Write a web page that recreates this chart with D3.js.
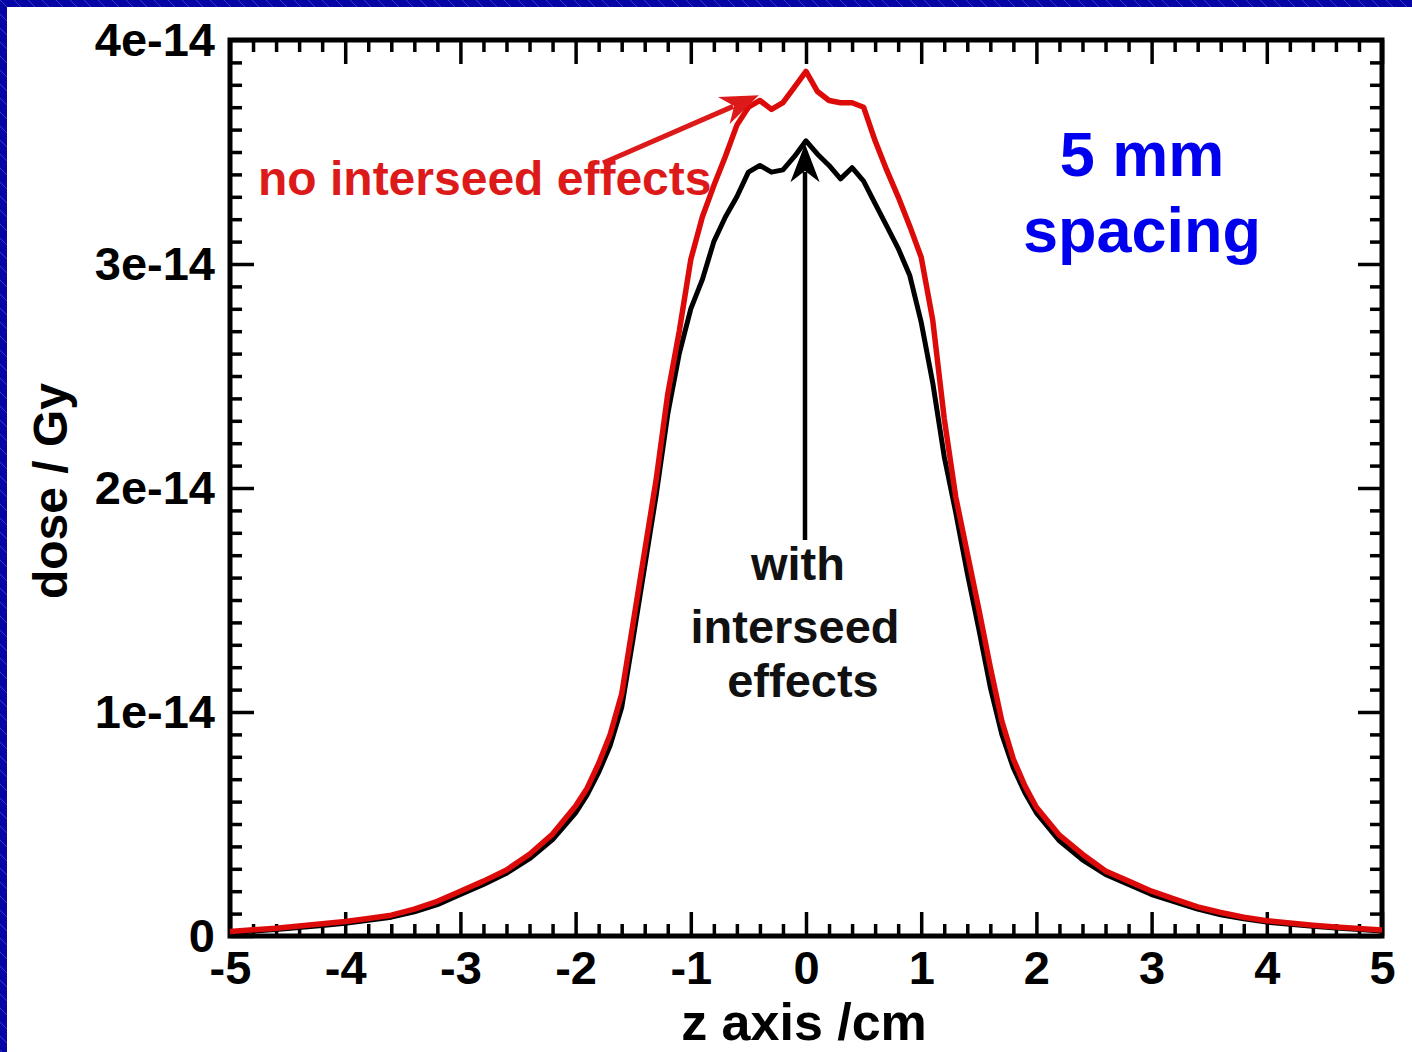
<!DOCTYPE html>
<html>
<head>
<meta charset="utf-8">
<script src="https://cdn.jsdelivr.net/npm/d3@7"></script>
<style>
  html, body { margin: 0; padding: 0; background: #0606a6; }
  svg { display: block; }
  text { font-family: "Liberation Sans", Arial, Helvetica, sans-serif; font-weight: bold; }
</style>
</head>
<body>
<svg id="chart" width="1412" height="1052"></svg>
<script>
// ---- data (dose in units of 1e-14 Gy) ----
const zPositions = [
  -5, -4.8, -4.6, -4.4, -4.2, -4, -3.8, -3.6, -3.4, -3.2, -3, -2.8, -2.6, -2.4, -2.2, -2,
  -1.9, -1.8, -1.7, -1.6, -1.5, -1.4, -1.3, -1.2, -1.1, -1, -0.9, -0.8, -0.7, -0.6, -0.5, -0.4, -0.3, -0.2, -0.1,
  0, 0.1, 0.2, 0.3, 0.4, 0.5, 0.6, 0.7, 0.8, 0.9, 1, 1.1, 1.2, 1.3, 1.4, 1.5, 1.6, 1.7, 1.8, 1.9,
  2, 2.2, 2.4, 2.6, 2.8, 3, 3.2, 3.4, 3.6, 3.8, 4, 4.2, 4.4, 4.6, 4.8, 5
];
const doseNoInterseed = [
  0.02, 0.028, 0.035, 0.045, 0.055, 0.065, 0.078, 0.093, 0.12, 0.155, 0.2, 0.245, 0.295, 0.365, 0.455, 0.58,
  0.66, 0.77, 0.9, 1.08, 1.40, 1.72, 2.04, 2.42, 2.70, 3.02, 3.21, 3.35, 3.48, 3.62, 3.70, 3.73, 3.69, 3.72, 3.79,
  3.86, 3.77, 3.73, 3.72, 3.72, 3.70, 3.55, 3.42, 3.30, 3.17, 3.03, 2.75, 2.31, 1.96, 1.71, 1.46, 1.2, 0.96, 0.79, 0.67,
  0.575, 0.45, 0.365, 0.29, 0.245, 0.2, 0.165, 0.13, 0.105, 0.084, 0.068, 0.058, 0.048, 0.04, 0.033, 0.027
];
const doseWithInterseed = [
  0.015, 0.022, 0.029, 0.038, 0.047, 0.057, 0.07, 0.084, 0.108, 0.14, 0.185, 0.23, 0.28, 0.345, 0.43, 0.55,
  0.63, 0.73, 0.85, 1.02, 1.33, 1.65, 1.97, 2.33, 2.6, 2.8, 2.93, 3.10, 3.21, 3.30, 3.41, 3.44, 3.41, 3.42, 3.48,
  3.55, 3.49, 3.44, 3.38, 3.43, 3.37, 3.27, 3.17, 3.07, 2.95, 2.74, 2.47, 2.14, 1.89, 1.62, 1.37, 1.11, 0.9, 0.75, 0.64,
  0.55, 0.425, 0.34, 0.275, 0.23, 0.185, 0.152, 0.12, 0.095, 0.077, 0.062, 0.052, 0.043, 0.036, 0.029, 0.022
];
const xMajorTicks = [-5, -4, -3, -2, -1, 0, 1, 2, 3, 4, 5];
const xTickLabels = ["-5", "-4", "-3", "-2", "-1", "0", "1", "2", "3", "4", "5"];
const yMajorTicks = [0, 1, 2, 3, 4];
const yTickLabels = ["0", "1e-14", "2e-14", "3e-14", "4e-14"];
const xMinorTicks = d3.range(-50, 51, 2).map(d => d / 10).filter(d => !xMajorTicks.includes(d));
const yMinorTicks = d3.range(0, 41).map(d => d / 10).filter(d => !yMajorTicks.includes(d));

// ---- layout ----
const svg = d3.select("#chart");
const L = 230, R = 1382, T = 40, B = 936;
const x = d3.scaleLinear().domain([-5, 5]).range([L, R]);
const y = d3.scaleLinear().domain([0, 4]).range([B, T]);

// background hatch
const defs = svg.append("defs");
const pat = defs.append("pattern").attr("id", "hatch").attr("width", 14).attr("height", 14)
  .attr("patternUnits", "userSpaceOnUse");
pat.append("rect").attr("width", 14).attr("height", 14).attr("fill", "#0606a6");
pat.append("path").attr("d", "M0,0 L14,14 M-7,7 L7,21 M7,-7 L21,7").attr("stroke", "#4848c8").attr("stroke-width", 0.8);
svg.append("rect").attr("width", 1412).attr("height", 1052).attr("fill", "url(#hatch)");
svg.append("rect").attr("x", 7).attr("y", 7).attr("width", 1405).attr("height", 1045).attr("fill", "#ffffff");

const fmtX = d => xTickLabels[xMajorTicks.indexOf(d)];
const fmtY = d => yTickLabels[yMajorTicks.indexOf(d)];

function styleAxis(g) {
  g.select(".domain").remove();
  g.selectAll(".tick line").attr("stroke", "#000").attr("stroke-width", 3.5);
  g.selectAll(".tick text").attr("fill", "#000").attr("font-size", 47)
    .attr("font-family", "'Liberation Sans', Arial, sans-serif").attr("font-weight", "bold");
}

// bottom
svg.append("g").attr("transform", `translate(0,${B})`)
  .call(d3.axisBottom(x).tickValues(xMinorTicks).tickSize(-12).tickFormat(""))
  .call(styleAxis);
svg.append("g").attr("transform", `translate(0,${B})`)
  .call(d3.axisBottom(x).tickValues(xMajorTicks).tickSize(-24).tickPadding(15).tickFormat(fmtX))
  .call(styleAxis);
// top
svg.append("g").attr("transform", `translate(0,${T})`)
  .call(d3.axisTop(x).tickValues(xMinorTicks).tickSize(-12).tickFormat(""))
  .call(styleAxis);
svg.append("g").attr("transform", `translate(0,${T})`)
  .call(d3.axisTop(x).tickValues(xMajorTicks).tickSize(-24).tickFormat(""))
  .call(styleAxis);
// left
svg.append("g").attr("transform", `translate(${L},0)`)
  .call(d3.axisLeft(y).tickValues(yMinorTicks).tickSize(-12).tickFormat(""))
  .call(styleAxis);
svg.append("g").attr("transform", `translate(${L},0)`)
  .call(d3.axisLeft(y).tickValues(yMajorTicks).tickSize(-24).tickPadding(15).tickFormat(fmtY))
  .call(styleAxis);
// right
svg.append("g").attr("transform", `translate(${R},0)`)
  .call(d3.axisRight(y).tickValues(yMinorTicks).tickSize(-12).tickFormat(""))
  .call(styleAxis);
svg.append("g").attr("transform", `translate(${R},0)`)
  .call(d3.axisRight(y).tickValues(yMajorTicks).tickSize(-24).tickFormat(""))
  .call(styleAxis);

// frame
svg.append("rect").attr("x", L).attr("y", T).attr("width", R - L).attr("height", B - T)
  .attr("fill", "none").attr("stroke", "#000").attr("stroke-width", 5);

// curves
const line = d3.line().x((d, i) => x(zPositions[i])).y(d => y(d));
svg.append("path").datum(doseWithInterseed).attr("d", line)
  .attr("fill", "none").attr("stroke", "#000").attr("stroke-width", 5).attr("stroke-linejoin", "round");
svg.append("path").datum(doseNoInterseed).attr("d", line)
  .attr("fill", "none").attr("stroke", "#dd0a0a").attr("stroke-width", 5.5).attr("stroke-linejoin", "round");

// axis titles
svg.append("text").attr("x", 804).attr("y", 1040).attr("text-anchor", "middle")
  .attr("font-size", 52).attr("fill", "#000").text("z axis /cm");
svg.append("text").attr("transform", "translate(67,491) rotate(-90)").attr("text-anchor", "middle")
  .attr("font-size", 48).attr("fill", "#000").text("dose / Gy");

// annotations
svg.append("text").attr("x", 258).attr("y", 195).attr("font-size", 48).attr("fill", "#dd1a1a")
  .text("no interseed effects");
function arrow(x1, y1, x2, y2, color, w) {
  const ang = Math.atan2(y2 - y1, x2 - x1);
  const len = 34, half = 13;
  const bx = x2 - len * Math.cos(ang), by = y2 - len * Math.sin(ang);
  const nx = -Math.sin(ang), ny = Math.cos(ang);
  svg.append("line").attr("x1", x1).attr("y1", y1).attr("x2", bx + 8 * Math.cos(ang)).attr("y2", by + 8 * Math.sin(ang))
    .attr("stroke", color).attr("stroke-width", w);
  const nxp = x2 - (len - 10) * Math.cos(ang), nyp = y2 - (len - 10) * Math.sin(ang);
  svg.append("path")
    .attr("d", `M${x2},${y2} L${bx + half * nx},${by + half * ny} L${nxp},${nyp} L${bx - half * nx},${by - half * ny} Z`)
    .attr("fill", color).attr("stroke", color).attr("stroke-width", 1.5).attr("stroke-linejoin", "miter");
}
arrow(603, 163, 757, 96, "#dd1a1a", 5);
arrow(805, 540, 805, 146, "#000", 4.5);

svg.append("g").selectAll("text").data(["with", "interseed", "effects"]).join("text")
  .attr("x", (d, i) => [798, 795, 803][i]).attr("y", (d, i) => [580, 643, 697][i])
  .attr("text-anchor", "middle").attr("font-size", 47).attr("fill", "#111").text(d => d);

svg.append("g").selectAll("text").data(["5 mm", "spacing"]).join("text")
  .attr("x", 1142).attr("y", (d, i) => [176, 252][i])
  .attr("text-anchor", "middle").attr("font-size", 63).attr("fill", "#0000ee").text(d => d);
</script>
</body>
</html>
